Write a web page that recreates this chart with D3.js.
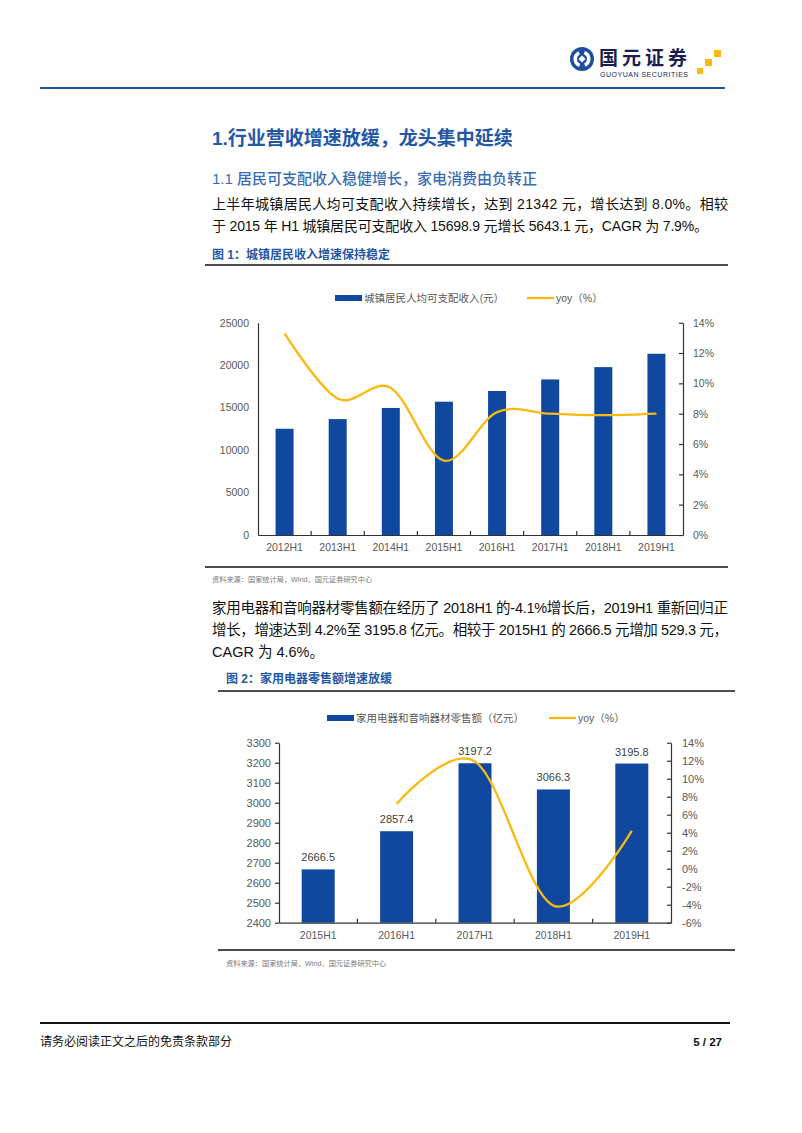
<!DOCTYPE html>
<html>
<head>
<meta charset="utf-8">
<script src="https://cdn.jsdelivr.net/npm/d3@7"></script>
<style>
  body { margin: 0; background: #fff; }
</style>
</head>
<body>
<div id="page"></div>
<script>
// chart 1: urban per-capita disposable income
const incomeCats = ['2012H1', '2013H1', '2014H1', '2015H1', '2016H1', '2017H1', '2018H1', '2019H1'];
const incomeVals = [12509, 13649, 14959, 15699, 16957, 18322, 19770, 21342];
const incomeYoy = [13.3, 9.0, 9.7, 4.9, 8.1, 8.0, 7.9, 8.0];
const incomeTicks = [0, 5000, 10000, 15000, 20000, 25000];
const incomeYoyTicks = [0, 2, 4, 6, 8, 10, 12, 14];

// chart 2: household appliance & audio retail sales
const retailCats = ['2015H1', '2016H1', '2017H1', '2018H1', '2019H1'];
const retailVals = [2666.5, 2857.4, 3197.2, 3066.3, 3195.8];
const retailYoy = [null, 7.2, 11.9, -4.1, 4.2];
const retailTicks = [2400, 2500, 2600, 2700, 2800, 2900, 3000, 3100, 3200, 3300];
const retailYoyTicks = [-6, -4, -2, 0, 2, 4, 6, 8, 10, 12, 14];

const BLUE = '#1048A0';
const GOLD = '#F9B90F';
const HEAD = '#2458A6';
const AXIS_TXT = '#595959';
const CJK = '"Noto Sans CJK SC", sans-serif';
const LAT = '"Liberation Sans", "Noto Sans CJK SC", sans-serif';

const svg = d3.select('#page').append('svg')
    .attr('width', 802)
    .attr('height', 1133);

svg.append('rect').attr('width', 802).attr('height', 1133).attr('fill', '#fff');

// ---- header / logo
const logo = svg.append('g');
logo.append('circle').attr('cx', 582).attr('cy', 59).attr('r', 12).attr('fill', '#1E4E9E');
const swirl = d3.arc().innerRadius(5).outerRadius(8.5);
logo.append('path').attr('transform', 'translate(582,59)')
    .attr('d', swirl({startAngle: 0.35, endAngle: 2.7})).attr('fill', '#fff');
logo.append('path').attr('transform', 'translate(582,59)')
    .attr('d', swirl({startAngle: 3.5, endAngle: 5.85})).attr('fill', '#fff');
logo.append('rect').attr('x', -2.5).attr('y', -2.5).attr('width', 5).attr('height', 5)
    .attr('transform', 'translate(582,59) rotate(45)').attr('fill', '#fff');
logo.append('text').attr('x', 599).attr('y', 65)
    .style('font-family', CJK).style('font-size', '19px').style('font-weight', 700)
    .attr('fill', '#1b1f4f').attr('textLength', 88).text('国元证券');
logo.append('text').attr('x', 600).attr('y', 77)
    .style('font-family', LAT).style('font-size', '7px')
    .attr('fill', '#1b1f4f').attr('textLength', 88).text('GUOYUAN SECURITIES');
[[714, 50, 7], [705, 59, 7], [697, 68, 6]].forEach(s => {
    logo.append('rect').attr('x', s[0]).attr('y', s[1]).attr('width', s[2]).attr('height', s[2])
        .attr('fill', GOLD);
});

svg.append('line').attr('x1', 40).attr('x2', 725).attr('y1', 88).attr('y2', 88)
    .attr('stroke', '#1F4E9E').attr('stroke-width', 2);

// ---- headings & body text
function txt(x, y, s, size, color, weight, family, len) {
    const t = svg.append('text').attr('x', x).attr('y', y)
        .style('font-family', family || LAT)
        .style('font-size', size + 'px')
        .style('font-weight', weight || 400)
        .attr('fill', color)
        .text(s);
    if (len) t.attr('textLength', len).attr('lengthAdjust', 'spacing');
    return t;
}

txt(212, 145, '1.行业营收增速放缓，龙头集中延续', 19, HEAD, 700);
txt(212, 184, '1.1 居民可支配收入稳健增长，家电消费由负转正', 15, '#3A6DB5', 500);
txt(212, 209, '上半年城镇居民人均可支配收入持续增长，达到 21342 元，增长达到 8.0%。相较', 14, '#111', 400, LAT, 516);
txt(212, 231, '于 2015 年 H1 城镇居民可支配收入 15698.9 元增长 5643.1 元，CAGR 为 7.9%。', 14, '#111', 400, LAT, 496);
txt(212, 259, '图 1：城镇居民收入增速保持稳定', 12, HEAD, 700);

svg.append('line').attr('x1', 205).attr('x2', 728).attr('y1', 265).attr('y2', 265)
    .attr('stroke', '#111').attr('stroke-width', 1.5);
svg.append('line').attr('x1', 205).attr('x2', 728).attr('y1', 567).attr('y2', 567)
    .attr('stroke', '#111').attr('stroke-width', 1.5);
txt(212, 582, '资料来源：国家统计局，Wind，国元证券研究中心', 7.2, '#777');

txt(212, 613, '家用电器和音响器材零售额在经历了 2018H1 的-4.1%增长后，2019H1 重新回归正', 14.5, '#111', 400, LAT, 516);
txt(212, 635, '增长，增速达到 4.2%至 3195.8 亿元。相较于 2015H1 的 2666.5 元增加 529.3 元，', 14.5, '#111', 400, LAT, 516);
txt(212, 657, 'CAGR 为 4.6%。', 14.5, '#111');
txt(226, 683, '图 2：家用电器零售额增速放缓', 12, HEAD, 700);

svg.append('line').attr('x1', 218).attr('x2', 735).attr('y1', 691).attr('y2', 691)
    .attr('stroke', '#111').attr('stroke-width', 1.5);
svg.append('line').attr('x1', 218).attr('x2', 735).attr('y1', 950).attr('y2', 950)
    .attr('stroke', '#111').attr('stroke-width', 1.5);
txt(226, 966, '资料来源：国家统计局，Wind，国元证券研究中心', 7.2, '#777');

// footer
svg.append('line').attr('x1', 40).attr('x2', 730).attr('y1', 1023).attr('y2', 1023)
    .attr('stroke', '#111').attr('stroke-width', 2);
txt(40, 1046, '请务必阅读正文之后的免责条款部分', 12, '#111', 400, CJK);
txt(722, 1046, '5 / 27', 11.5, '#111', 700).attr('text-anchor', 'end');

// ---- charts
function drawChart(o) {
    const g = svg.append('g');

    const x = d3.scaleBand().domain(o.cats).range([o.left, o.right]).padding(0);
    const y = d3.scaleLinear().domain(d3.extent(o.ticks)).range([o.bottom, o.top]);
    const y2 = d3.scaleLinear().domain(d3.extent(o.yoyTicks)).range([o.bottom, o.top]);

    // bars
    g.selectAll('rect.bar').data(o.vals).enter().append('rect')
        .attr('class', 'bar')
        .attr('x', (d, i) => x(o.cats[i]) + (x.bandwidth() - o.barWidth) / 2)
        .attr('width', o.barWidth)
        .attr('y', d => y(d))
        .attr('height', d => o.bottom - y(d))
        .attr('fill', BLUE);

    if (o.labels) {
        g.selectAll('text.lbl').data(o.vals).enter().append('text')
            .attr('class', 'lbl')
            .attr('x', (d, i) => x(o.cats[i]) + x.bandwidth() / 2)
            .attr('y', d => y(d) - 8)
            .attr('text-anchor', 'middle')
            .style('font-family', LAT).style('font-size', '11px')
            .attr('fill', '#404040')
            .text(d => d.toFixed(1));
    }

    // yoy line
    const line = d3.line()
        .defined(d => d != null)
        .x((d, i) => x(o.cats[i]) + x.bandwidth() / 2)
        .y(d => y2(d))
        .curve(d3.curveCardinal.tension(0));
    g.append('path').datum(o.yoy)
        .attr('d', line)
        .attr('fill', 'none')
        .attr('stroke', GOLD)
        .attr('stroke-width', 2.3);

    // axes
    const styleAxis = (sel, size) => {
        sel.select('.domain').attr('stroke', '#333').attr('stroke-width', 1.2);
        sel.selectAll('.tick line').attr('stroke', '#333').attr('stroke-width', 1.2);
        sel.selectAll('text').style('font-family', LAT).style('font-size', size + 'px').attr('fill', AXIS_TXT);
    };

    g.append('g').attr('transform', `translate(${o.left},0)`)
        .call(d3.axisLeft(y).tickValues(o.ticks).tickSizeInner(o.leftTick).tickSizeOuter(0)
            .tickPadding(o.leftPad).tickFormat(d3.format('d')))
        .call(s => styleAxis(s, o.tickFont));

    g.append('g').attr('transform', `translate(${o.right},0)`)
        .call(d3.axisRight(y2).tickValues(o.yoyTicks).tickSizeInner(-4).tickSizeOuter(0)
            .tickPadding(o.rightPad).tickFormat(d => d + '%'))
        .call(s => styleAxis(s, o.tickFont));

    g.append('g').attr('transform', `translate(0,${o.bottom})`)
        .call(d3.axisBottom(x).tickSize(0).tickPadding(o.bottomPad))
        .call(s => styleAxis(s, 10.5));

    // category separators on the x axis
    g.selectAll('line.sep').data(o.cats.slice(1)).enter().append('line')
        .attr('class', 'sep')
        .attr('x1', d => x(d)).attr('x2', d => x(d))
        .attr('y1', o.bottom).attr('y2', o.bottom - 4)
        .attr('stroke', '#333').attr('stroke-width', 1.2);

    // legend
    const lg = o.legend;
    g.append('rect').attr('x', lg.x).attr('y', lg.y - 3).attr('width', 27).attr('height', 6).attr('fill', BLUE);
    g.append('text').attr('x', lg.x + 29).attr('y', lg.y + 4)
        .style('font-family', CJK).style('font-size', '10.5px').attr('fill', AXIS_TXT).text(lg.barText);
    g.append('line').attr('x1', lg.lx).attr('x2', lg.lx + 27).attr('y1', lg.y).attr('y2', lg.y)
        .attr('stroke', GOLD).attr('stroke-width', 2.3);
    g.append('text').attr('x', lg.lx + 29).attr('y', lg.y + 4)
        .style('font-family', LAT).style('font-size', '10.5px').attr('fill', AXIS_TXT).text('yoy（%）');
}

drawChart({
    cats: incomeCats, vals: incomeVals, yoy: incomeYoy,
    ticks: incomeTicks, yoyTicks: incomeYoyTicks,
    left: 258, right: 683, top: 322.7, bottom: 535,
    barWidth: 18, labels: false,
    leftTick: 0, leftPad: 9, rightPad: 10, bottomPad: 9, tickFont: 10.5,
    legend: {x: 335, y: 298, lx: 527, barText: '城镇居民人均可支配收入(元）'}
});

drawChart({
    cats: retailCats, vals: retailVals, yoy: retailYoy,
    ticks: retailTicks, yoyTicks: retailYoyTicks,
    left: 279, right: 671, top: 742.7, bottom: 922.7,
    barWidth: 33, labels: true,
    leftTick: 4, leftPad: 4, rightPad: 11, bottomPad: 8.5, tickFont: 11,
    legend: {x: 327, y: 718, lx: 549, barText: '家用电器和音响器材零售额（亿元）'}
});
</script>
</body>
</html>
